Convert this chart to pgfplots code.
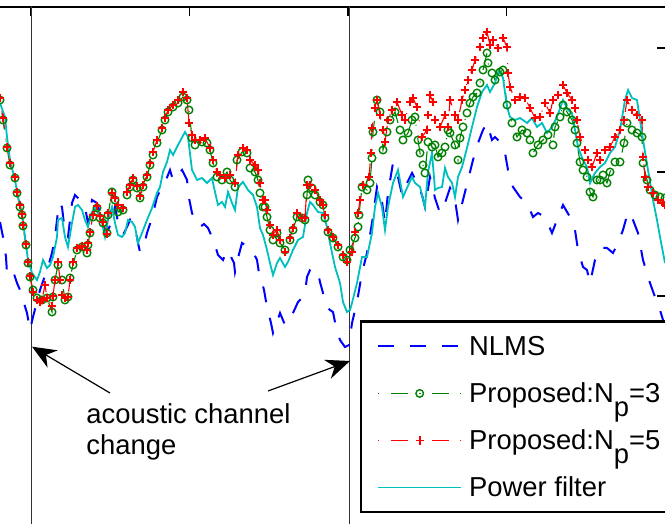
\documentclass[border=0pt]{standalone}
\usepackage{pgfplots}
\usepackage{pgfplotstable}
\pgfplotsset{compat=1.18}
\usepackage{fontspec}
\setmainfont{Liberation Sans}
\usetikzlibrary{arrows.meta}
\definecolor{mblue}{rgb}{0,0,1}
\definecolor{mgreen}{rgb}{0,0.5,0}
\definecolor{mred}{rgb}{1,0,0}
\definecolor{mcyan}{rgb}{0,0.75,0.75}
\definecolor{mgray}{rgb}{0.2,0.2,0.2}
\newcommand{\ff}{\fontsize{13.7pt}{16pt}\selectfont}

% x: horizontal position, y: vertical position measured from the top (as read)
\pgfplotstableread{
x y
0 222
3 237
6 257
7 273
10 275
13 271
17 283
20 290
23 300
27 313
30 330
33 317
40 290
48 267
52 253
55 237
57 220
59 203
62 207
65 233
68 237
72 203
75 195
78 198
82 203
85 207
88 223
92 200
97 203
100 213
102 220
106 233
109 228
112 220
115 207
120 232
124 233
127 227
130 220
133 227
137 237
138 243
140 252
144 245
147 233
152 218
157 197
162 187
166 180
170 170
173 180
175 180
178 175
182 170
187 180
189 198
192 213
196 222
200 227
204 224
208 228
212 237
215 245
218 255
223 260
227 250
230 255
234 263
235 272
238 258
242 243
248 247
253 252
257 260
259 273
262 282
264 290
267 307
269 315
271 323
273 333
277 322
280 313
285 325
289 320
293 313
298 302
302 298
305 293
307 277
310 270
314 268
318 273
320 282
323 293
327 307
330 310
333 312
336 327
340 340
345 347
349 345
352 323
357 302
362 273
367 253
372 223
377 187
382 202
385 223
388 193
393 163
398 177
402 195
407 183
412 173
417 183
422 195
425 207
430 177
435 198
440 213
445 203
450 188
455 200
458 220
463 200
468 180
473 160
478 143
483 130
487 123
492 140
495 137
500 142
505 153
508 170
513 187
520 197
527 203
533 217
538 213
545 217
552 233
557 220
563 205
570 217
575 230
578 250
583 267
587 270
590 283
595 260
600 248
607 248
613 253
618 243
623 230
628 212
633 220
638 233
643 260
650 283
655 297
660 310
663 320
665 328
}\tabnlms

\pgfplotstableread{
x y
0 100
3 120
7 148
10 165
15 178
17 193
20 207
22 215
23 226
26 245
28 263
30 277
33 290
37 298
42 300
47 298
52 312
53 297
55 280
58 265
62 280
65 300
68 297
70 278
73 265
77 250
82 247
87 253
88 245
90 233
93 217
97 208
100 218
103 223
107 233
108 215
112 192
115 200
118 212
123 210
127 195
130 187
133 180
137 188
140 198
143 187
147 177
150 165
153 155
157 143
162 130
165 120
168 112
173 107
178 103
183 97
187 100
189 110
192 138
195 145
202 142
207 143
210 150
213 163
217 177
222 180
227 172
230 180
235 187
237 160
242 152
247 153
250 168
255 172
258 180
260 193
263 207
265 207
267 217
270 230
273 240
277 233
280 243
285 250
290 240
293 230
297 217
302 218
305 220
307 195
308 180
312 188
315 195
320 202
323 205
325 218
328 232
333 238
338 247
343 257
347 260
350 250
355 238
358 227
359 215
362 187
367 190
370 183
372 158
373 132
377 100
380 112
383 150
387 132
390 120
395 112
400 130
403 140
408 133
412 120
415 117
418 140
420 153
423 165
425 173
428 142
432 147
435 145
438 157
442 153
445 147
448 130
450 133
455 145
458 160
460 138
463 127
467 113
470 103
473 97
477 93
480 83
483 70
487 53
488 63
492 73
495 80
500 72
503 70
507 105
512 123
517 137
522 130
527 133
530 140
533 153
538 145
543 140
548 135
553 145
555 127
560 117
563 105
567 112
572 120
575 130
577 143
580 162
583 170
587 177
590 192
593 197
597 180
600 180
603 175
607 183
610 172
615 162
620 162
624 143
627 123
632 130
637 133
642 137
643 163
647 180
650 190
655 195
660 197
665 198
}\tabthree

\pgfplotstableread{
x y
0 98
3 118
7 147
10 163
15 177
17 192
20 205
22 214
23 225
26 244
28 262
30 276
33 292
37 300
40 302
42 300
45 285
47 298
52 306
53 296
55 280
58 262
60 280
62 295
65 298
68 297
70 280
73 262
77 248
82 246
87 250
88 243
90 232
93 215
97 206
100 216
103 222
107 234
108 213
112 193
115 198
118 205
123 208
127 192
130 185
133 178
137 186
140 196
143 185
147 175
150 163
153 152
157 140
162 128
165 118
168 110
173 105
178 100
183 92
187 98
189 123
192 135
195 140
200 140
205 138
210 148
213 160
217 172
220 175
225 178
230 175
235 183
238 155
243 148
247 150
250 160
255 165
258 170
260 183
263 200
265 200
267 210
270 225
273 235
277 230
280 240
285 252
290 238
293 228
297 213
302 218
305 218
307 185
310 185
315 190
320 200
323 205
325 215
328 230
333 237
338 245
343 255
347 262
352 252
355 232
358 213
360 200
363 185
369 177
371 153
372 128
375 108
377 100
380 115
383 130
385 142
388 120
392 110
397 102
402 115
405 120
410 102
413 98
417 107
422 137
427 130
428 115
430 95
433 102
435 120
440 127
445 115
448 127
450 100
455 115
458 120
462 100
465 90
468 80
472 70
475 60
480 47
483 38
487 32
490 45
493 40
498 48
503 38
507 47
508 73
510 87
515 100
520 97
525 98
530 108
535 118
540 117
545 103
550 113
553 100
558 95
563 85
567 93
572 100
575 108
577 120
580 137
585 150
588 160
592 167
597 153
600 160
605 150
610 147
615 137
620 130
624 120
627 100
632 110
637 115
642 120
643 157
645 177
648 187
653 193
658 200
663 203
665 205
}\tabfive

\pgfplotstableread{
x y
0 103
5 117
7 137
10 160
15 180
18 197
22 213
25 237
28 260
32 273
37 280
40 272
43 260
47 268
50 265
53 257
57 237
58 220
62 218
65 237
68 247
72 223
75 207
78 205
82 210
85 220
88 227
92 212
95 207
98 213
102 223
105 237
108 220
112 207
115 223
118 235
122 237
125 233
128 220
132 222
135 227
138 243
142 233
147 220
152 208
157 193
160 187
163 172
167 162
170 150
173 155
178 145
185 132
188 137
192 170
197 180
202 178
207 183
212 178
215 192
218 205
222 202
225 207
228 192
232 203
235 210
238 187
243 182
248 190
253 195
257 207
260 228
263 235
267 250
270 263
273 275
277 263
280 258
285 267
288 262
293 250
298 240
303 237
307 213
310 202
313 205
318 212
323 213
327 227
330 243
335 267
340 283
343 302
347 312
350 310
352 303
357 283
362 257
367 257
372 233
375 207
378 193
382 207
385 230
388 207
393 183
398 170
403 197
407 188
412 177
415 183
420 187
425 207
428 172
432 153
435 190
438 188
442 187
445 168
448 177
452 183
455 197
458 177
462 167
467 148
472 127
477 107
482 92
487 85
490 92
495 83
499 70
503 78
507 107
510 117
515 120
520 118
527 123
532 118
537 127
542 123
547 133
552 127
557 117
563 100
568 110
572 113
575 130
578 147
583 160
587 167
590 183
595 173
600 167
605 163
610 153
615 147
620 130
625 100
628 90
632 98
637 100
640 120
643 140
648 170
653 200
657 220
660 237
665 263
}\tabpower

\begin{document}
\begin{tikzpicture}
\begin{axis}[
  x=0.5pt, y=0.5pt,
  xmin=-127.5, xmax=666, ymin=-100, ymax=517,
  axis line style={line width=0.9pt, black},
  xtick={31,189.5,348,506.5}, ytick={104,228,352,476},
  xticklabels={}, yticklabels={},
  major tick length=4.5pt,
  tick style={line width=0.7pt, black},
  clip=true,
  legend image code/.code={
    \path[draw=none, fill=none] (0pt,-5pt) rectangle (54pt,5pt);
    \draw[mark repeat=2, mark phase=2, #1] plot coordinates {(8.5pt,0pt) (29.25pt,0pt) (50pt,0pt)};
  },
  legend style={
    at={(axis cs:360,203.5)}, anchor=north west,
    draw=black, line width=1.2pt, fill=white,
    inner xsep=0pt, inner ysep=1.75pt,
    nodes={inner sep=0pt, text height=15pt, text depth=6.25pt, font=\ff},
    row sep=2.25pt, column sep=0pt,
  },
  legend cell align=left,
]
\coordinate (BL) at (axis cs:0,0);
\coordinate (TR) at (axis cs:665,524);

\addplot[mgray, line width=0.65pt, forget plot] coordinates {(31.5,-100) (31.5,600)};
\addplot[mgray, line width=0.65pt, forget plot] coordinates {(349.5,-100) (349.5,600)};

\addplot[mblue, line width=1pt, dash pattern=on 8pt off 8pt]
  table[x=x, y expr=524-\thisrow{y}] {\tabnlms};
\addlegendentry{NLMS\hspace*{12pt}}

\addplot[mgreen, line width=0.55pt, dash pattern=on 0.5pt off 6pt on 8.5pt off 5.5pt,
  mark=o, mark size=1.9pt, mark options={solid, line width=0.7pt}]
  table[x=x, y expr=524-\thisrow{y}] {\tabthree};
\addlegendentry{Proposed:N\raisebox{-7pt}{p}=3\hspace*{12pt}}

\addplot[mred, line width=0.55pt, dash pattern=on 0.5pt off 6pt on 8.5pt off 5.5pt,
  mark=+, mark size=2.1pt, mark options={solid, line width=0.8pt}]
  table[x=x, y expr=524-\thisrow{y}] {\tabfive};
\addlegendentry{Proposed:N\raisebox{-7pt}{p}=5\hspace*{12pt}}

\addplot[mcyan, line width=0.9pt]
  table[x=x, y expr=524-\thisrow{y}] {\tabpower};
\addlegendentry{Power filter\hspace*{12pt}}

\node[anchor=base west, inner sep=0pt, font=\ff] at (axis cs:86,100) {acoustic channel};
\node[anchor=base west, inner sep=0pt, font=\ff] at (axis cs:86,69) {change};
\draw[-{Stealth[length=12pt,width=10pt]}, line width=0.6pt, black] (axis cs:110,131) -- (axis cs:32,177.3);
\draw[-{Stealth[length=12pt,width=10pt]}, line width=0.6pt, black] (axis cs:268,133) -- (axis cs:350,163);
\end{axis}
\pgfresetboundingbox
\path[use as bounding box] (BL) rectangle (TR);
\end{tikzpicture}
\end{document}
